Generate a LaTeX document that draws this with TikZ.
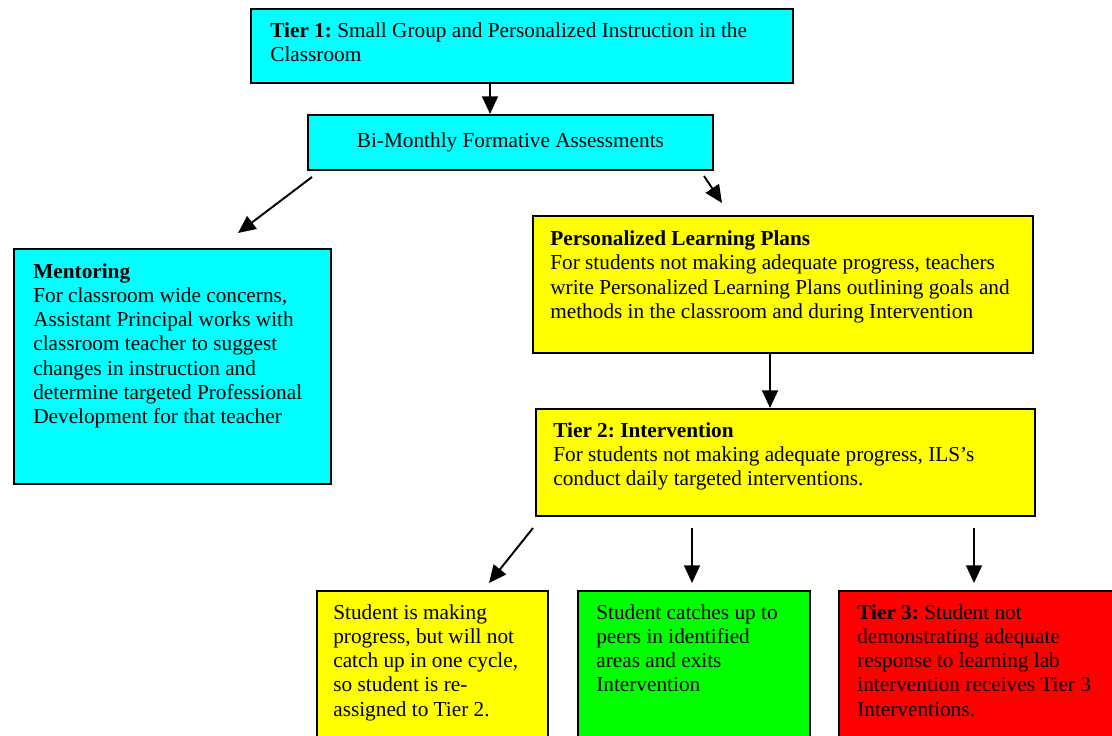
\documentclass[tikz,border=0pt]{standalone}
\usepackage{fontspec}
\setmainfont{Liberation Serif}
\usetikzlibrary{arrows.meta}
\definecolor{boxcyan}{RGB}{0,255,255}
\definecolor{boxyellow}{RGB}{255,255,0}
\definecolor{boxgreen}{RGB}{0,255,0}
\definecolor{boxred}{RGB}{255,0,0}

\begin{document}
\begin{tikzpicture}[x=0.02cm,y=-0.02cm,
  box/.style={draw,line width=1.1pt,anchor=north west,inner sep=0pt},
  txt/.style={anchor=north west,align=left,inner sep=0pt,font=\fontsize{12.1}{13.8}\selectfont\frenchspacing},
  arr/.style={line width=1.1pt,-{Triangle[length=10pt,width=9pt]}}]
\clip (0,0) rectangle (1112,735);
\node [box,fill=boxcyan,minimum width=10.84cm,minimum height=1.48cm] (t1) at (250,8) {};
\node [txt] (t1txt) at (270,22) {\textbf{Tier 1:} Small Group and Personalized Instruction in the\\Classroom};
\node [box,fill=boxcyan,minimum width=8.10cm,minimum height=1.10cm] (bi) at (307,114) {};
\node [txt,anchor=center] (bitxt) at (bi.center) {Bi-Monthly Formative Assessments};
\node [box,fill=boxcyan,minimum width=6.34cm,minimum height=4.70cm] (mentor) at (13,248) {};
\node [txt] (mentortxt) at (33,263) {\textbf{Mentoring}\\For classroom wide concerns,\\Assistant Principal works with\\classroom teacher to suggest\\changes in instruction and\\determine targeted Professional\\Development for that teacher};
\node [box,fill=boxyellow,minimum width=10.00cm,minimum height=2.74cm] (plp) at (532,215) {};
\node [txt] (plptxt) at (550,230.5) {\textbf{Personalized Learning Plans}\\For students not making adequate progress, teachers\\write Personalized Learning Plans outlining goals and\\methods in the classroom and during Intervention};
\node [box,fill=boxyellow,minimum width=9.98cm,minimum height=2.14cm] (tier2) at (535,408) {};
\node [txt] (tier2txt) at (553,422) {\textbf{Tier 2: Intervention}\\For students not making adequate progress, ILS’s\\conduct daily targeted interventions.};
\node [box,fill=boxyellow,minimum width=4.62cm,minimum height=3.40cm] (slow) at (316,590) {};
\node [txt] (slowtxt) at (333,604) {Student is making\\progress, but will not\\catch up in one cycle,\\so student is re-\\assigned to Tier 2.};
\node [box,fill=boxgreen,minimum width=4.64cm,minimum height=3.40cm] (exit) at (577,590) {};
\node [txt] (exittxt) at (596,604) {Student catches up to\\peers in identified\\areas and exits\\Intervention};
\node [box,fill=boxred,minimum width=5.64cm,minimum height=3.40cm] (tier3) at (838,590) {};
\node [txt] (tier3txt) at (857,604) {\textbf{Tier 3:} Student not\\demonstrating adequate\\response to learning lab\\intervention receives Tier 3\\Interventions.};
\coordinate (a1) at (490,82);
\coordinate (a2) at (490,114);
\coordinate (b1) at (312,177);
\coordinate (b2) at (238,233);
\coordinate (c1) at (704,176);
\coordinate (c2) at (722,203);
\coordinate (d1) at (770,352);
\coordinate (d2) at (770,408);
\coordinate (e1) at (533,528);
\coordinate (e2) at (489,583);
\coordinate (f1) at (692,528);
\coordinate (f2) at (692,583);
\coordinate (g1) at (974,528);
\coordinate (g2) at (974,583);
\draw [arr] (a1) -- (a2);
\draw [arr] (b1) -- (b2);
\draw [arr] (c1) -- (c2);
\draw [arr] (d1) -- (d2);
\draw [arr] (e1) -- (e2);
\draw [arr] (f1) -- (f2);
\draw [arr] (g1) -- (g2);
\end{tikzpicture}
\end{document}
